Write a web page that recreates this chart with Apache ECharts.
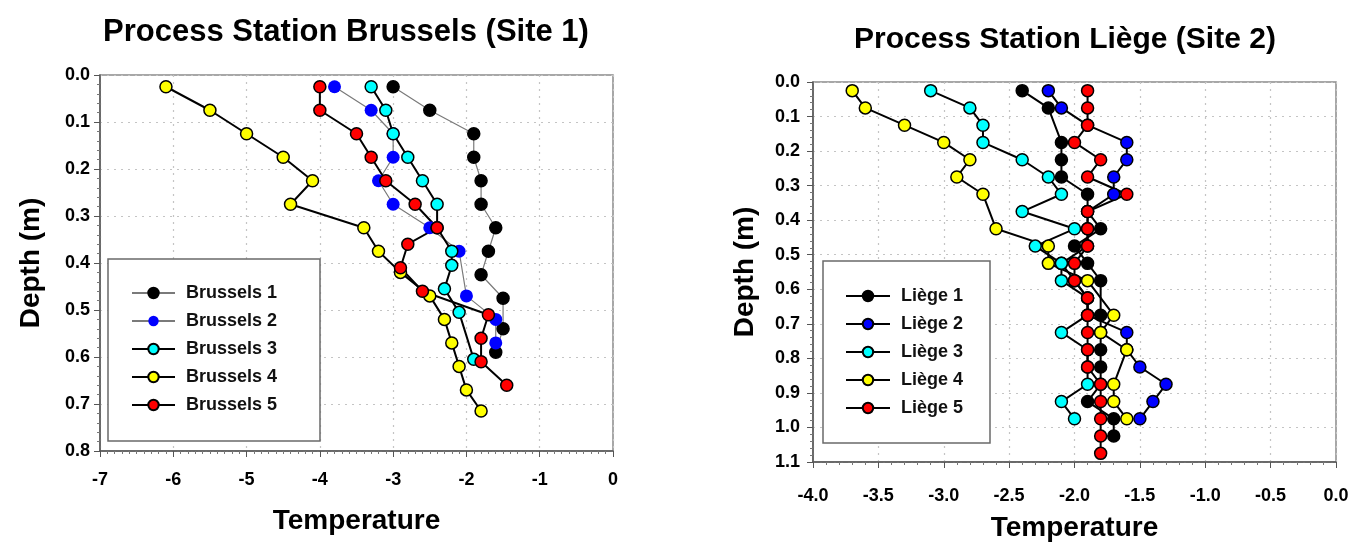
<!DOCTYPE html>
<html>
<head>
<meta charset="utf-8">
<script src="https://cdn.jsdelivr.net/npm/echarts/dist/echarts.min.js"></script>
<style>
  html, body { margin: 0; padding: 0; background: #fff; }
  #chart { width: 1366px; height: 551px; }
</style>
</head>
<body>
<div id="chart"></div>
<script>
// ---------- Site 1: Brussels ----------
const b1Depth = [0.025, 0.075, 0.125, 0.175, 0.225, 0.275, 0.325, 0.375, 0.425, 0.475, 0.54, 0.59];
const b1Temp  = [-3.0, -2.5, -1.9, -1.9, -1.8, -1.8, -1.6, -1.7, -1.8, -1.5, -1.5, -1.6];

const b2Depth = [0.025, 0.075, 0.125, 0.175, 0.225, 0.275, 0.325, 0.375, 0.47, 0.52, 0.57];
const b2Temp  = [-3.8, -3.3, -3.0, -3.0, -3.2, -3.0, -2.5, -2.1, -2.0, -1.6, -1.6];

const b3Depth = [0.025, 0.075, 0.125, 0.175, 0.225, 0.275, 0.325, 0.375, 0.405, 0.455, 0.505, 0.605];
const b3Temp  = [-3.3, -3.1, -3.0, -2.8, -2.6, -2.4, -2.4, -2.2, -2.2, -2.3, -2.1, -1.9];

const b4Depth = [0.025, 0.075, 0.125, 0.175, 0.225, 0.275, 0.325, 0.375, 0.42, 0.47, 0.52, 0.57, 0.62, 0.67, 0.715];
const b4Temp  = [-6.1, -5.5, -5.0, -4.5, -4.1, -4.4, -3.4, -3.2, -2.9, -2.5, -2.3, -2.2, -2.1, -2.0, -1.8];

const b5Depth = [0.025, 0.075, 0.125, 0.175, 0.225, 0.275, 0.325, 0.36, 0.41, 0.46, 0.51, 0.56, 0.61, 0.66];
const b5Temp  = [-4.0, -4.0, -3.5, -3.3, -3.1, -2.7, -2.4, -2.8, -2.9, -2.6, -1.7, -1.8, -1.8, -1.45];

// ---------- Site 2: Liège ----------
const l1Depth = [0.025, 0.075, 0.175, 0.225, 0.275, 0.325, 0.375, 0.425, 0.475, 0.525, 0.575, 0.675, 0.725, 0.775, 0.825, 0.875, 0.925, 0.975, 1.025];
const l1Temp  = [-2.4, -2.2, -2.1, -2.1, -2.1, -1.9, -1.9, -1.8, -2.0, -1.9, -1.8, -1.8, -1.8, -1.8, -1.8, -1.8, -1.9, -1.7, -1.7];

const l2Depth = [0.025, 0.075, 0.125, 0.175, 0.225, 0.275, 0.325, 0.375, 0.425, 0.475, 0.525, 0.575, 0.625, 0.675, 0.725, 0.775, 0.825, 0.875, 0.925, 0.975];
const l2Temp  = [-2.2, -2.1, -1.9, -1.6, -1.6, -1.7, -1.7, -1.9, -1.9, -1.9, -2.1, -2.0, -1.9, -1.9, -1.6, -1.6, -1.5, -1.3, -1.4, -1.5];

const l3Depth = [0.025, 0.075, 0.125, 0.175, 0.225, 0.275, 0.325, 0.375, 0.425, 0.475, 0.525, 0.575, 0.625, 0.675, 0.725, 0.775, 0.825, 0.875, 0.925, 0.975];
const l3Temp  = [-3.1, -2.8, -2.7, -2.7, -2.4, -2.2, -2.1, -2.4, -2.0, -2.3, -2.1, -2.1, -1.9, -1.9, -2.1, -1.9, -1.9, -1.9, -2.1, -2.0];

const l4Depth = [0.025, 0.075, 0.125, 0.175, 0.225, 0.275, 0.325, 0.425, 0.475, 0.525, 0.575, 0.675, 0.725, 0.775, 0.875, 0.925, 0.975];
const l4Temp  = [-3.7, -3.6, -3.3, -3.0, -2.8, -2.9, -2.7, -2.6, -2.2, -2.2, -1.9, -1.7, -1.8, -1.6, -1.7, -1.7, -1.6];

const l5Depth = [0.025, 0.075, 0.125, 0.175, 0.225, 0.275, 0.325, 0.375, 0.425, 0.475, 0.525, 0.575, 0.625, 0.675, 0.725, 0.775, 0.825, 0.875, 0.925, 0.975, 1.025, 1.075];
const l5Temp  = [-1.9, -1.9, -1.9, -2.0, -1.8, -1.9, -1.6, -1.9, -1.9, -1.9, -2.0, -2.0, -1.9, -1.9, -1.9, -1.9, -1.9, -1.8, -1.8, -1.8, -1.8, -1.8];

const brusselsNames = ['Brussels 1', 'Brussels 2', 'Brussels 3', 'Brussels 4', 'Brussels 5'];
const liegeNames = ['Liège 1', 'Liège 2', 'Liège 3', 'Liège 4', 'Liège 5'];
const titles = ['Process Station Brussels (Site 1)', 'Process Station Liège (Site 2)'];
const xAxisTitle = 'Temperature';
const yAxisTitle = 'Depth (m)';

const FONT = '"Liberation Sans", Arial, sans-serif';

function zip(temps, depths) { return temps.map((t, i) => [t, depths[i]]); }

function mkSeries(name, temps, depths, idx, fill, opts) {
  opts = opts || {};
  const noBorder = opts.border === false;
  return {
    name: name,
    type: 'line',
    xAxisIndex: idx,
    yAxisIndex: idx,
    data: zip(temps, depths),
    symbol: 'circle',
    symbolSize: noBorder ? 13 : 12,
    showSymbol: true,
    itemStyle: { color: fill, borderColor: noBorder ? fill : '#000', borderWidth: noBorder ? 0 : 1.5 },
    lineStyle: { color: opts.lineColor || '#000', width: opts.lineWidth || 2 },
    emphasis: { disabled: true },
    animation: false
  };
}

const axisLabelStyle = { fontFamily: FONT, fontSize: 18, fontWeight: 'bold', color: '#000' };
const nameStyle = { fontFamily: FONT, fontSize: 28, fontWeight: 'bold', color: '#000' };
const splitStyle = { show: true, lineStyle: { color: '#c4c4c4', type: [2, 5], width: 1.2 } };

const chart = echarts.init(document.getElementById('chart'), null, { renderer: 'canvas' });
chart.setOption({
  animation: false,
  backgroundColor: '#fff',
  title: [
    { text: titles[0], left: 341, top: 12, textAlign: 'center',
      textStyle: { fontFamily: FONT, fontSize: 31, fontWeight: 'bold', color: '#000' } },
    { text: titles[1], left: 1060, top: 20, textAlign: 'center',
      textStyle: { fontFamily: FONT, fontSize: 30, fontWeight: 'bold', color: '#000' } }
  ],
  grid: [
    { left: 100, top: 75, width: 513, height: 376, show: true, borderColor: '#8a8a8a', borderWidth: 1.5 },
    { left: 813, top: 82, width: 523, height: 380, show: true, borderColor: '#8a8a8a', borderWidth: 1.5 }
  ],
  xAxis: [
    { type: 'value', gridIndex: 0, min: -7, max: 0, interval: 1,
      name: xAxisTitle, nameLocation: 'middle', nameGap: 56, nameTextStyle: nameStyle,
      axisLine: { show: true, onZero: false, lineStyle: { color: '#555', width: 1.5 } },
      axisTick: { show: true, length: 6, lineStyle: { color: '#555' } },
      minorTick: { show: true, splitNumber: 10, length: 3, lineStyle: { color: '#777' } },
      axisLabel: Object.assign({ margin: 20, formatter: v => String(Math.round(v)) }, axisLabelStyle),
      splitLine: splitStyle },
    { type: 'value', gridIndex: 1, min: -4, max: 0, interval: 0.5,
      name: xAxisTitle, nameLocation: 'middle', nameGap: 52, nameTextStyle: nameStyle,
      axisLine: { show: true, onZero: false, lineStyle: { color: '#555', width: 1.5 } },
      axisTick: { show: true, length: 6, lineStyle: { color: '#555' } },
      minorTick: { show: true, splitNumber: 5, length: 3, lineStyle: { color: '#777' } },
      axisLabel: Object.assign({ margin: 25, formatter: v => v.toFixed(1) }, axisLabelStyle),
      splitLine: splitStyle }
  ],
  yAxis: [
    { type: 'value', gridIndex: 0, min: 0, max: 0.8, interval: 0.1, inverse: true,
      name: yAxisTitle, nameLocation: 'middle', nameGap: 55, nameTextStyle: nameStyle,
      axisLine: { show: true, onZero: false, lineStyle: { color: '#555', width: 1.5 } },
      axisTick: { show: true, length: 6, lineStyle: { color: '#555' } },
      minorTick: { show: true, splitNumber: 5, length: 3, lineStyle: { color: '#777' } },
      axisLabel: Object.assign({ margin: 10, formatter: v => v.toFixed(1) }, axisLabelStyle),
      splitLine: splitStyle },
    { type: 'value', gridIndex: 1, min: 0, max: 1.1, interval: 0.1, inverse: true,
      name: yAxisTitle, nameLocation: 'middle', nameGap: 54, nameTextStyle: nameStyle,
      axisLine: { show: true, onZero: false, lineStyle: { color: '#555', width: 1.5 } },
      axisTick: { show: true, length: 6, lineStyle: { color: '#555' } },
      minorTick: { show: true, splitNumber: 5, length: 3, lineStyle: { color: '#777' } },
      axisLabel: Object.assign({ margin: 13, formatter: v => v.toFixed(1) }, axisLabelStyle),
      splitLine: splitStyle }
  ],
  graphic: [
    { type: 'rect', z: 3, shape: { x: 108, y: 259, width: 212, height: 182 },
      style: { fill: '#fff', stroke: '#6a6a6a', lineWidth: 1.5 } },
    { type: 'rect', z: 3, shape: { x: 823, y: 261, width: 167, height: 182 },
      style: { fill: '#fff', stroke: '#6a6a6a', lineWidth: 1.5 } }
  ],
  legend: [
    { data: brusselsNames, orient: 'vertical', left: 131, top: 283, z: 5, padding: 0,
      itemWidth: 43, itemHeight: 13, itemGap: 8,
      textStyle: { fontFamily: FONT, fontSize: 18, fontWeight: 'bold', color: '#111', lineHeight: 20, padding: [0, 0, 0, 6] } },
    { data: liegeNames, orient: 'vertical', left: 845, top: 286, z: 5, padding: 0,
      itemWidth: 44, itemHeight: 13, itemGap: 8,
      textStyle: { fontFamily: FONT, fontSize: 18, fontWeight: 'bold', color: '#111', lineHeight: 20, padding: [0, 0, 0, 6] } }
  ],
  series: [
    mkSeries(brusselsNames[0], b1Temp, b1Depth, 0, '#000000', { lineColor: '#7a7a7a', lineWidth: 1.2 }),
    mkSeries(brusselsNames[1], b2Temp, b2Depth, 0, '#0000ff', { lineColor: '#7a7a7a', lineWidth: 1.2, border: false }),
    mkSeries(brusselsNames[2], b3Temp, b3Depth, 0, '#00ffff'),
    mkSeries(brusselsNames[3], b4Temp, b4Depth, 0, '#ffff00'),
    mkSeries(brusselsNames[4], b5Temp, b5Depth, 0, '#ff0000'),
    mkSeries(liegeNames[0], l1Temp, l1Depth, 1, '#000000'),
    mkSeries(liegeNames[1], l2Temp, l2Depth, 1, '#0000ff'),
    mkSeries(liegeNames[2], l3Temp, l3Depth, 1, '#00ffff'),
    mkSeries(liegeNames[3], l4Temp, l4Depth, 1, '#ffff00'),
    mkSeries(liegeNames[4], l5Temp, l5Depth, 1, '#ff0000')
  ]
});
</script>
</body>
</html>
